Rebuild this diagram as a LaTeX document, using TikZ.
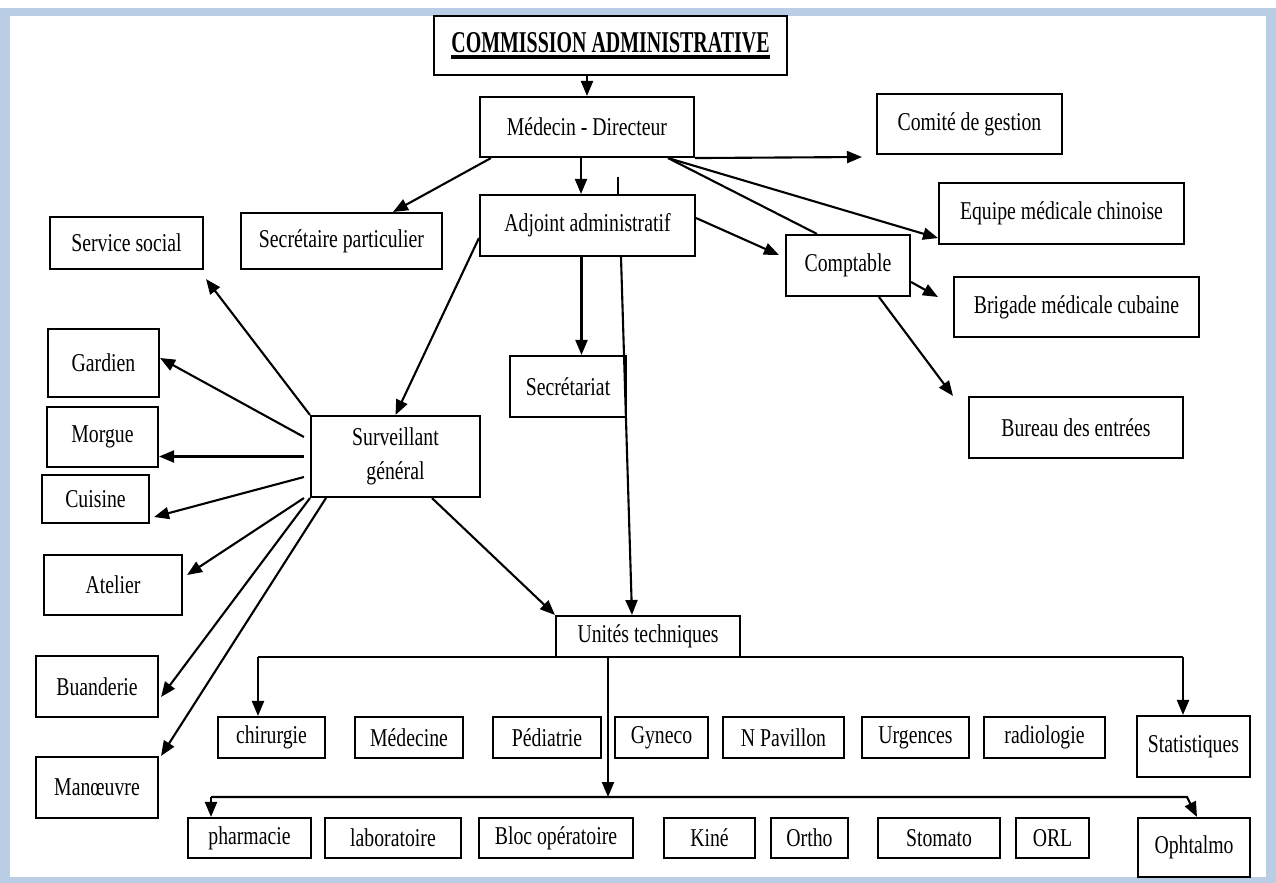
\documentclass[tikz,border=0pt]{standalone}
\usepackage{fontspec}
\setmainfont{Liberation Serif}[FakeStretch=0.77]
\newfontfamily\titlefont{Liberation Serif}[FakeStretch=0.66]
\usepackage{tikz}
\usetikzlibrary{arrows.meta}
\definecolor{framebg}{HTML}{B9CDE5}
\newcommand{\titleul}[1]{\setbox0=\hbox{#1}\leavevmode\rlap{\copy0}\raisebox{-3.5pt}{\rule{\wd0}{1.8pt}}}

\begin{document}
\begin{tikzpicture}[
        x=0.02cm, y=-0.02cm,
        box/.style={
            rectangle,
            draw,
            line width=1.2pt,
            inner sep=2pt,
            align=center,
            minimum height=1.22cm,
            font=\fontsize{14.6}{19}\selectfont
        },
        arrow/.style={
            -{Triangle[length=3mm,width=2.4mm]},
            line width=1.2pt
        },
        link/.style={
            line width=1.2pt
        }
    ]
        % page frame
        \fill[framebg] (0,8) rectangle (1276,883);
        \fill[white] (10,16) rectangle (1266,877);
        \useasboundingbox (0,0) rectangle (1276,883);

        % direction
        \node[box, minimum width=7.06cm, minimum height=1.18cm, font=\fontsize{17.2}{19}\selectfont] (comm) at (610.5,45.5) {\titleul{\titlefont\bfseries COMMISSION ADMINISTRATIVE}};
        \node[box, minimum width=4.28cm, minimum height=1.2cm] (med) at (587,127) {Médecin - Directeur};
        \node[box, minimum width=3.7cm, minimum height=1.2cm] (comite) at (969.5,124) {Comité de gestion};
        \node[box, minimum width=4.3cm] (adj) at (587.5,225.5) {Adjoint administratif};
        \node[box, minimum width=4.02cm, minimum height=1.12cm] (secpart) at (341.5,241) {Secrétaire particulier};
        \node[box, minimum width=3.06cm, minimum height=1.04cm] (social) at (126.5,243) {Service social};
        \node[box, minimum width=4.9cm] (equipe) at (1061.5,213.5) {Equipe médicale chinoise};
        \node[box, minimum width=2.48cm] (compta) at (848,265.5) {Comptable};
        \node[box, minimum width=4.9cm, minimum height=1.2cm] (brigade) at (1076.5,307) {Brigade médicale cubaine};
        \node[box, minimum width=4.28cm] (bureau) at (1076,427.5) {Bureau des entrées};
        \node[box, minimum width=2.32cm] (secret) at (568,386.5) {Secrétariat};
        \node[box, minimum width=3.38cm, minimum height=1.62cm] (surv) at (395.5,456.5) {Surveillant\\général};

        % services generaux
        \node[box, minimum width=2.22cm, minimum height=1.36cm] (gardien) at (103.5,363) {Gardien};
        \node[box, minimum width=2.22cm, minimum height=1.2cm] (morgue) at (102.5,437) {Morgue};
        \node[box, minimum width=2.14cm, minimum height=0.96cm] (cuisine) at (95.5,499) {Cuisine};
        \node[box, minimum width=2.76cm, minimum height=1.2cm] (atelier) at (113,585) {Atelier};
        \node[box, minimum width=2.44cm] (buand) at (97,686.5) {Buanderie};
        \node[box, minimum width=2.44cm] (manoeuvre) at (97,787.5) {Manœuvre};

        % unites techniques
        \node[box, minimum width=3.68cm, minimum height=0.82cm] (unites) at (648,636.5) {Unités techniques};
        \node[box, minimum width=2.14cm, minimum height=0.82cm] (chir) at (271.5,737.5) {chirurgie};
        \node[box, minimum width=2.16cm, minimum height=0.82cm] (medec) at (409,737.5) {Médecine};
        \node[box, minimum width=2.16cm, minimum height=0.82cm] (pedia) at (547,737.5) {Pédiatrie};
        \node[box, minimum width=1.86cm, minimum height=0.82cm] (gyneco) at (661.5,737.5) {Gyneco};
        \node[box, minimum width=2.42cm, minimum height=0.82cm] (pavillon) at (783.5,737.5) {N Pavillon};
        \node[box, minimum width=2.14cm, minimum height=0.82cm] (urgences) at (915.5,737.5) {Urgences};
        \node[box, minimum width=2.42cm, minimum height=0.82cm] (radio) at (1044.5,737.5) {radiologie};
        \node[box, minimum width=2.26cm] (stat) at (1193.5,746.5) {Statistiques};

        \node[box, minimum width=2.46cm, minimum height=0.8cm] (pharma) at (249.5,838) {pharmacie};
        \node[box, minimum width=2.72cm, minimum height=0.8cm] (labo) at (393,838) {laboratoire};
        \node[box, minimum width=3.08cm, minimum height=0.8cm] (bloc) at (556,838) {Bloc opératoire};
        \node[box, minimum width=1.82cm, minimum height=0.8cm] (kine) at (709.5,838) {Kiné};
        \node[box, minimum width=1.54cm, minimum height=0.8cm] (ortho) at (809.5,838) {Ortho};
        \node[box, minimum width=2.44cm, minimum height=0.8cm] (stomato) at (939,838) {Stomato};
        \node[box, minimum width=1.46cm, minimum height=0.8cm] (orl) at (1052.5,838) {ORL};
        \node[box, minimum width=2.24cm, minimum height=1.18cm] (ophtalmo) at (1194,847.5) {Ophtalmo};

        \coordinate (comtip) at (862,157);
        \coordinate (stub) at (618,177);
        \coordinate (busA) at (258,657);
        \coordinate (busB) at (1183,657);
        \coordinate (busC) at (211,797);
        \coordinate (busD) at (1187,797);

        % top of the chart
        \draw[arrow] (med.north |- comm.south) -- (med.north);
        \draw[arrow] ([xshift=-0.12cm]med.south) -- ([xshift=-0.12cm]med.south |- adj.north);
        \draw[arrow] (med.south east) -- (comtip);
        \draw[arrow] ([xshift=0.24cm]med.south west) -- ([xshift=1.03cm]secpart.north);
        \draw[link] ([xshift=-0.54cm]med.south east) -- ([xshift=-0.62cm]compta.north);
        \draw[arrow] ([xshift=-0.54cm]med.south east) -- ([yshift=0.14cm]equipe.south west);
        \draw[link] (stub) -- (stub |- adj.north);

        \draw[arrow] ([yshift=0.15cm]adj.east) -- ([xshift=-0.12cm,yshift=0.21cm]compta.west);
        \draw[arrow] ([yshift=-0.25cm]adj.west) -- (surv.north);
        \draw[arrow] ([xshift=-0.12cm]adj.south) -- ([xshift=-0.12cm]adj.south |- secret.north);
        \draw[arrow] ([xshift=0.67cm]adj.south) -- ([xshift=-0.32cm]unites.north);

        \draw[arrow] ([yshift=-0.33cm]compta.east) -- ([xshift=-0.3cm,yshift=0.2cm]brigade.west);
        \draw[arrow] ([xshift=0.62cm]compta.south) -- ([xshift=-0.3cm]bureau.north west);

        % surveillant general
        \draw[arrow] (surv.north west) -- ([xshift=0.04cm,yshift=-0.18cm]social.south east);
        \draw[arrow] ([xshift=-0.12cm,yshift=0.39cm]surv.west) -- ([yshift=0.1cm]gardien.east);
        \draw[arrow] ([xshift=-0.12cm]surv.west) -- (surv.west -| morgue.east);
        \draw[arrow] ([xshift=-0.12cm,yshift=-0.41cm]surv.west) -- ([xshift=0.08cm,yshift=-0.36cm]cuisine.east);
        \draw[arrow] ([xshift=-0.12cm]surv.south west) -- ([xshift=0.08cm,yshift=0.2cm]atelier.east);
        \draw[arrow] (surv.south west) -- ([xshift=0.04cm,yshift=-0.21cm]buand.east);
        \draw[arrow] ([xshift=0.32cm]surv.south west) -- ([xshift=0.04cm]manoeuvre.north east);
        \draw[arrow] ([xshift=2.44cm]surv.south west) -- (unites.north west);

        % distribution des unites
        \draw[link] (busA) -- (busB);
        \draw[arrow] (busA) -- (busA |- chir.north);
        \draw[arrow] (busB) -- (busB |- stat.north);
        \draw[arrow] ([xshift=-0.8cm]unites.south) -- ([xshift=-0.8cm]unites.south |- busC);
        \draw[arrow] (busC) -- (busC |- pharma.north);
        \draw[arrow] (busC) -- (busD) -- ([xshift=0.06cm]ophtalmo.north);
    \end{tikzpicture}
\end{document}
